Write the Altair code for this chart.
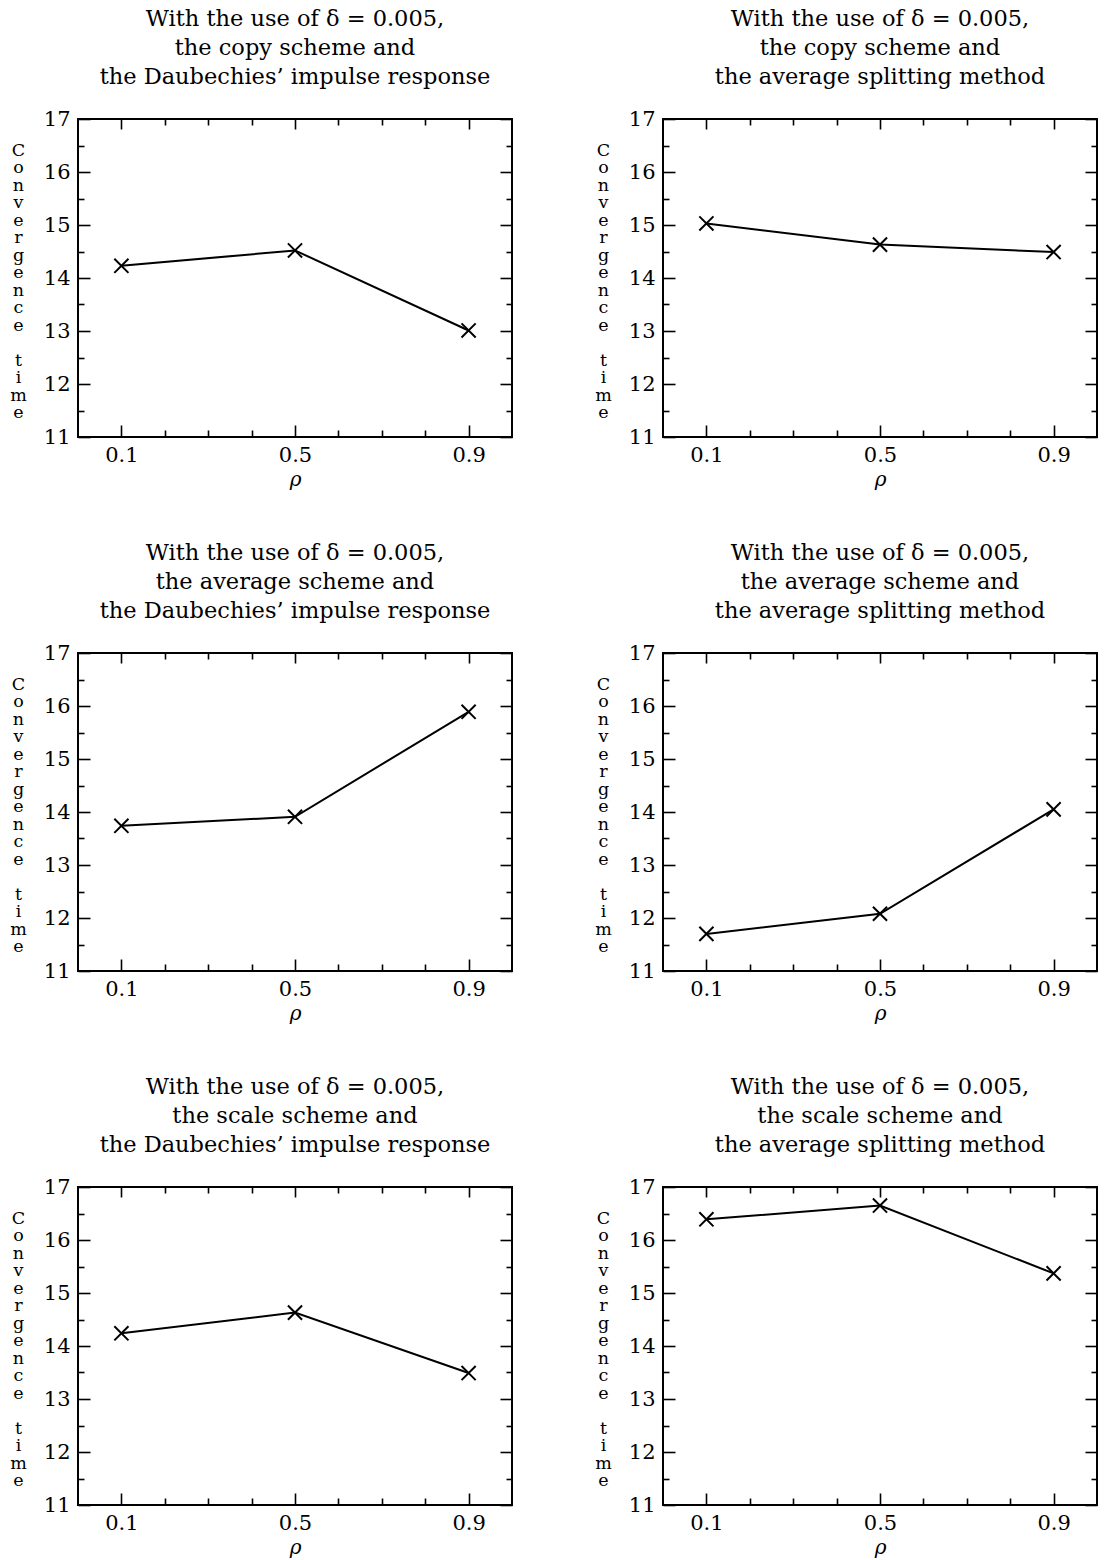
import altair as alt
import pandas as pd

# ---- data ----
rho = [0.1, 0.5, 0.9]
copy_daub = [14.23, 14.52, 13.01]
copy_avg = [15.03, 14.63, 14.49]
average_daub = [13.74, 13.91, 15.89]
average_avg = [11.70, 12.08, 14.05]
scale_daub = [14.24, 14.63, 13.49]
scale_avg = [16.39, 16.65, 15.37]

titles = [
    ["With the use of δ = 0.005,", "the copy scheme and", "the Daubechies’ impulse response"],
    ["With the use of δ = 0.005,", "the copy scheme and", "the average splitting method"],
    ["With the use of δ = 0.005,", "the average scheme and", "the Daubechies’ impulse response"],
    ["With the use of δ = 0.005,", "the average scheme and", "the average splitting method"],
    ["With the use of δ = 0.005,", "the scale scheme and", "the Daubechies’ impulse response"],
    ["With the use of δ = 0.005,", "the scale scheme and", "the average splitting method"],
]
series = [copy_daub, copy_avg, average_daub, average_avg, scale_daub, scale_avg]

x_label_values = [0.1, 0.5, 0.9]
x_tick_values = [0.1, 0.2, 0.3, 0.4, 0.5, 0.6, 0.7, 0.8, 0.9]
y_label_values = [11, 12, 13, 14, 15, 16, 17]
y_tick_values = [11, 11.5, 12, 12.5, 13, 13.5, 14, 14.5, 15, 15.5, 16, 16.5, 17]
x_domain = [0, 1]
y_domain = [11, 17]
y_title_lines = list("Convergence") + ["\u2800"] + list("time")
x_title = "ρ"

# ---- styling ----
W, H = 434, 318
FONT = "DejaVu Serif"
X_PATH = "M-1,-1L1,1M1,-1L-1,1"

x_major_test = " || ".join("abs(datum.value - %s) < 1e-6" % v for v in x_label_values)
y_major_test = "datum.value % 1 === 0"


def tick_axis(orient, offset, values, test, major, minor):
    return alt.Axis(
        orient=orient,
        offset=offset,
        values=values,
        labels=False,
        domain=False,
        grid=False,
        title=None,
        ticks=True,
        tickColor="black",
        tickWidth=1.6,
        tickSize={"condition": {"test": test, "value": major}, "value": minor},
    )


def panel(values, title):
    df = pd.DataFrame({"rho": rho, "time": values})
    xs = alt.Scale(domain=x_domain, nice=False, zero=False)
    ys = alt.Scale(domain=y_domain, nice=False, zero=False)
    base = alt.Chart(df)
    line = base.mark_line(color="black", strokeWidth=2).encode(
        x=alt.X("rho:Q", scale=xs, axis=alt.Axis(
            orient="bottom", values=x_label_values, format=".1f", ticks=False,
            domain=False, grid=False, labelPadding=7, labelFlush=False,
            title=x_title, titleFontStyle="italic", titleFontSize=20,
            titleFontWeight="normal", titlePadding=4)),
        y=alt.Y("time:Q", scale=ys, axis=alt.Axis(
            orient="left", values=y_label_values, ticks=False, domain=False,
            grid=False, labelPadding=8, labelFlush=False,
            title=y_title_lines, titleAngle=0, titleAlign="center",
            titleBaseline="top", titleX=-60, titleY=22, titleFontSize=17.5,
            titleLineHeight=17.5, titleFontWeight="normal")),
    )
    pts = base.mark_point(shape=X_PATH, size=200, filled=False, color="black",
                          strokeWidth=2, opacity=1).encode(
        x=alt.X("rho:Q", scale=xs, axis=tick_axis("top", -H, x_tick_values, x_major_test, 12, 7)),
        y=alt.Y("time:Q", scale=ys, axis=tick_axis("right", -W, y_tick_values, y_major_test, 12, 6)),
    )
    ghost = base.mark_point(opacity=0).encode(
        x=alt.X("rho:Q", scale=xs, axis=tick_axis("bottom", -H, x_tick_values, x_major_test, 10, 6)),
        y=alt.Y("time:Q", scale=ys, axis=tick_axis("left", -W, y_tick_values, y_major_test, 12, 6)),
    )
    return alt.layer(line, pts, ghost).resolve_axis(
        x="independent", y="independent"
    ).properties(
        width=W, height=H,
        title=alt.TitleParams(text=title, font=FONT, fontSize=22.5, fontWeight="normal",
                              lineHeight=29, anchor="middle", offset=20, color="black"),
    )


panels = [panel(s, t) for s, t in zip(series, titles)]
rows = [alt.hconcat(panels[i], panels[i + 1], spacing=79) for i in (0, 2, 4)]
chart = alt.vconcat(*rows, spacing=50).properties(
    padding={"left": 8, "top": 6, "right": 0, "bottom": 0},
    background="white",
).configure_view(
    stroke="black", strokeWidth=2
).configure_axis(
    labelFont=FONT, labelFontSize=21, labelColor="black",
    titleFont=FONT, titleColor="black",
)

chart.save("out.html", embed_options={"renderer": "svg", "actions": False})
